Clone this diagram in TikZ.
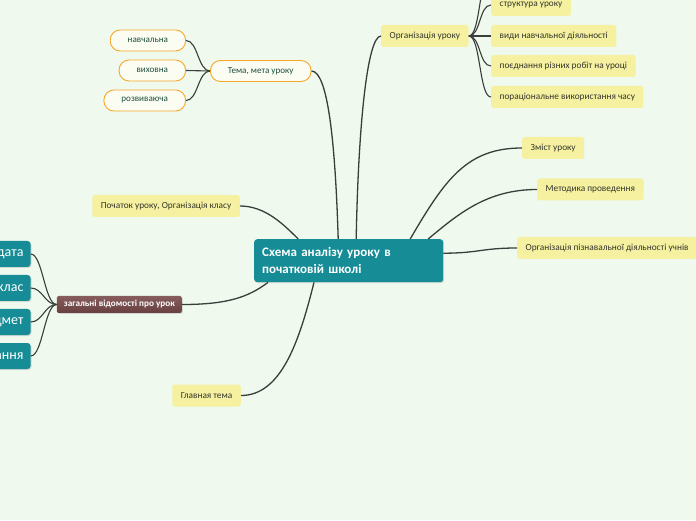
\documentclass[tikz,border=0pt]{standalone}
\usepackage{fontspec}
\setmainfont{Carlito}
\usetikzlibrary{positioning,shadows}

\definecolor{bgmint}{RGB}{239,249,238}
\definecolor{mapteal}{RGB}{22,141,150}
\definecolor{mapyellow}{RGB}{245,241,160}
\definecolor{maporange}{RGB}{247,166,40}
\definecolor{aimfill}{RGB}{252,253,242}
\definecolor{aimtext}{RGB}{30,78,62}
\definecolor{leaftext}{RGB}{52,52,44}
\definecolor{brownhi}{RGB}{135,92,92}
\definecolor{brownlo}{RGB}{104,64,64}
\definecolor{linegray}{RGB}{58,62,58}

\begin{document}
\begin{tikzpicture}[
  x=1pt, y=1pt,
  root/.style={fill=mapteal, text=white, rounded corners=3pt, align=left, text width=173pt, inner xsep=8pt, inner ysep=4pt, minimum height=43pt, font=\fontsize{13}{17}\selectfont\bfseries, drop shadow={opacity=0.25, shadow xshift=1pt, shadow yshift=-1pt}},
  topic/.style={fill=mapyellow, text=leaftext, rounded corners=2.5pt, inner xsep=8.5pt, minimum height=22pt, font=\fontsize{9.3}{11}\selectfont},
  aim/.style={draw=maporange, line width=0.9pt, fill=aimfill, text=aimtext, rounded corners=10pt, inner xsep=17.5pt, minimum height=21pt, font=\fontsize{9.1}{11}\selectfont},
  info/.style={top color=brownhi, bottom color=brownlo, text=white, rounded corners=2pt, inner xsep=7pt, minimum height=17pt, font=\fontsize{9.2}{10}\selectfont\bfseries, drop shadow={opacity=0.25, shadow xshift=1pt, shadow yshift=-1pt}},
  fact/.style={fill=mapteal, text=white, rounded corners=3pt, inner xsep=7pt, minimum height=26pt, anchor=east, font=\fontsize{14}{16}\selectfont, drop shadow={opacity=0.25, shadow xshift=1pt, shadow yshift=-1pt}},
  branch/.style={draw=linegray, line width=1.3pt},
  twig/.style={draw=linegray, line width=1.1pt}
]
\clip (0,0) rectangle (696,520);
\fill[bgmint] (0,0) rectangle (696,520);

% centre
\node[root, anchor=north west] (root) at (254,281) {Схема аналізу уроку в\\початковій школі};

% upper left
\node[aim, anchor=west] (aim) at (210,449) {Тема, мета уроку};
\node[aim, anchor=east] (teach) at (186,479.5) {навчальна};
\node[aim, anchor=east] (raise) at (186,449.5) {виховна};
\node[aim, anchor=east] (grow) at (186,419.5) {розвиваюча};

% upper right
\node[topic, anchor=west] (org) at (381,484) {Організація уроку};
\coordinate (hidden) at (491,548);
\node[topic, anchor=west] (struct) at (491,515) {структура уроку};
\node[topic, anchor=west] (kinds) at (491,484) {види навчальної діяльності};
\node[topic, anchor=west] (mix) at (491,454) {поєднання різних робіт на уроці};
\node[topic, anchor=west] (time) at (491,423) {пораціональне використання часу};

% right
\node[topic, anchor=west] (content) at (522,372) {Зміст уроку};
\node[topic, anchor=west] (method) at (537,330.5) {Методика проведення};
\node[topic, anchor=west] (pupils) at (517,272) {Організація пізнавальної діяльності учнів};

% left
\node[topic, anchor=east] (start) at (240,314) {Початок уроку, Організація класу};
\node[topic, anchor=east] (mainth) at (241,124.5) {Главная тема};
\node[info, anchor=east] (info) at (182,215.5) {загальні відомості про урок};
\node[fact] (date) at (30.7,266) {дата};
\node[fact] (form) at (30.7,232) {клас};
\node[fact] (subj) at (30.7,198) {предмет};
\node[fact] (kind) at (30.7,164) {навчання};

% main branches
\draw[branch] ([xshift=-10.5pt]root.north) .. controls +(-3,100) and +(16,0) .. (aim.east);
\draw[branch] ([xshift=7.5pt]root.north) .. controls +(2,110) and +(-14,0) .. (org.west);
\draw[branch] ([xshift=-50.5pt]root.north) .. controls +(-15,15) and +(25,0) .. (start.east);
\draw[branch] ([xshift=61.5pt]root.north) .. controls +(35,60) and +(-55,0) .. (content.west);
\draw[branch] ([xshift=79.5pt]root.north) .. controls +(30,25) and +(-50,0) .. (method.west);
\draw[branch] ([yshift=7.5pt]root.east) .. controls +(35,0) and +(-35,0) .. (pupils.west);
\draw[branch] ([xshift=14pt]root.south west) .. controls +(-20,-15) and +(45,0) .. (info.east);
\draw[branch] ([xshift=60pt]root.south west) .. controls +(-15,-60) and +(40,0) .. (mainth.east);

% sub-branches
\foreach \leaf in {teach,raise,grow}
  \draw[twig] (aim.west) .. controls +(-12,0) and +(12,0) .. (\leaf.east);
\foreach \leaf in {hidden,struct,kinds,mix,time}
  \draw[twig] (org.east) .. controls +(12,0) and +(-12,0) .. (\leaf.west);
\foreach \leaf in {date,form,subj,kind}
  \draw[twig] (info.west) .. controls +(-12,0) and +(12,0) .. (\leaf.east);
\end{tikzpicture}
\end{document}
